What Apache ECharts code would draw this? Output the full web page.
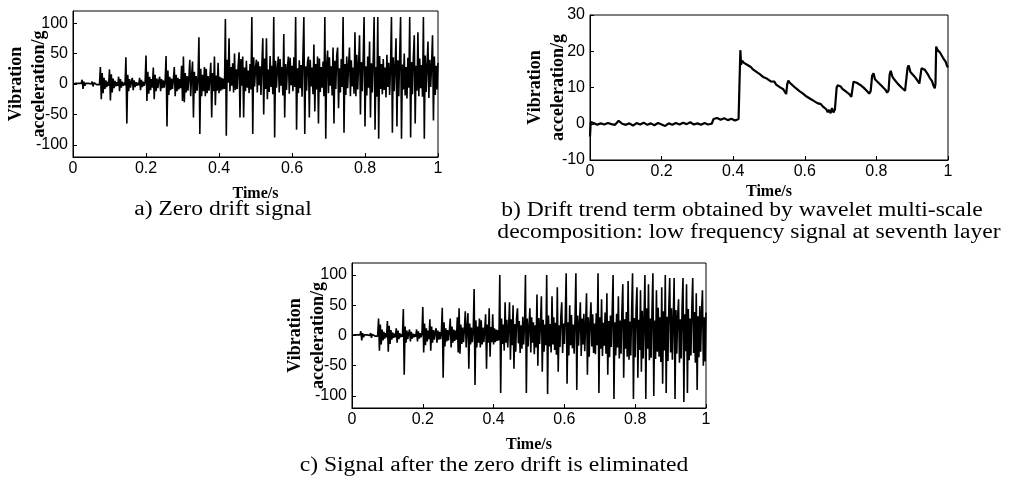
<!DOCTYPE html>
<html>
<head>
<meta charset="utf-8">
<script src="https://cdn.jsdelivr.net/npm/echarts@6/dist/echarts.min.js"></script>
<style>
html,body{margin:0;padding:0;background:#fff;}
#chart{width:1013px;height:480px;}
</style>
</head>
<body>
<div id="chart"></div>
<script>
// ---- data ----
const sampleStep = 0.0025;               // s, time between samples of the vibration records
const timeTicks = [0, 0.2, 0.4, 0.6, 0.8, 1];
const accTicks = [-100, -50, 0, 50, 100];
const driftTicks = [-10, 0, 10, 20, 30];

// a) zero drift signal (g)
const accRaw = [
  0,1,-1,1,0,-1,1,-1,0,1,7,-8,4,-3,1,-1,0,1,-1,0,
  0,4,-4,2,-1,1,-1,0,1,-1,28,-25,18,-15,10,-8,6,-5,4,-3,
  24,-27,16,-14,9,-7,5,-4,3,-3,12,-12,8,-6,4,-3,2,-2,44,-65,
  15,-12,8,-6,4,10,-10,6,-5,3,-3,2,-2,10,-10,7,-5,4,-3,2,
  47,-28,20,-16,12,-10,8,-6,27,-25,15,-12,9,-7,6,12,-12,8,-7,6,
  -6,5,46,-70,22,-18,12,-10,9,-8,7,28,-20,15,-12,10,-9,8,-7,30,
  -28,45,-30,18,-14,13,-11,10,40,-20,14,37,-55,20,-15,13,-11,10,77,-82,
  25,-20,15,-12,28,-20,25,-15,13,-11,10,35,-55,18,-12,45,-35,14,-11,35,
  -15,12,-11,10,-9,9,-8,107,-85,40,2,75,-12,28,-3,34,-14,50,-10,24,
  -8,30,52,-55,41,-3,45,-55,27,-12,38,-6,22,-15,33,-9,110,-82,44,-4,
  26,40,-14,37,-2,29,-18,31,75,-50,42,-8,75,-25,24,-13,46,-5,30,-17,
  110,-88,38,-6,25,45,-14,41,-3,28,-19,82,-55,33,-10,27,45,-16,43,-2,
  30,-12,44,-5,110,-75,26,-15,39,-7,31,-21,47,110,-82,29,-11,36,45,-55,
  40,-4,27,-17,65,-45,33,-9,45,-65,42,-13,28,-6,37,-20,110,-90,31,55,
  -15,44,-3,29,-19,60,-65,38,-8,47,60,-40,26,-14,41,-5,110,-80,33,-18,
  45,-7,30,60,-20,39,-4,27,-16,85,-20,48,-9,32,80,-50,36,-12,42,110,
  -70,29,-19,45,-6,70,-55,34,-14,40,110,-75,28,-21,110,-90,46,-8,33,-17,
  41,-10,27,-22,48,-5,35,-18,30,110,-80,44,-12,29,75,-70,39,-20,46,110,
  -90,32,-9,50,-19,28,-24,43,-6,110,-88,36,-17,45,80,-65,30,-11,85,-20,
  42,-7,31,-21,110,-90,47,-13,29,70,-23,40,-5,34,80,-60,45,-18,30,-9,
  35
];

// b) drift trend term (g)
const driftTime = [
  0,0.002,0.01,0.02,0.03,0.04,0.05,0.06,0.07,0.08,0.09,0.10,0.11,0.12,0.13,0.14,0.15,0.16,0.17,0.18,
  0.19,0.20,0.21,0.22,0.23,0.24,0.25,0.26,0.27,0.28,0.29,0.30,0.31,0.32,0.33,0.34,0.345,0.355,0.365,0.375,
  0.385,0.395,0.405,0.415,0.419,
  0.42,0.422,0.425,0.43,0.435,0.44,0.445,0.45,0.455,0.46,0.465,0.47,0.475,0.48,0.485,0.49,0.495,0.50,0.505,0.51,
  0.515,0.52,0.525,0.53,0.535,0.54,0.545,0.548,0.551,0.554,0.558,0.562,0.566,0.57,0.575,0.58,0.585,0.59,0.595,0.60,
  0.605,0.61,0.615,0.62,0.625,0.63,0.635,0.64,0.645,0.65,0.655,0.66,0.664,0.668,0.672,0.676,0.68,0.684,0.687,0.689,
  0.692,0.697,0.70,0.705,0.71,0.715,0.72,0.725,0.73,0.733,0.736,0.74,0.745,0.75,0.755,0.76,0.765,0.77,0.775,0.78,
  0.784,0.788,0.792,0.796,0.80,0.805,0.81,0.815,0.82,0.825,0.83,0.834,0.837,0.84,0.845,0.85,0.855,0.86,0.865,0.87,
  0.875,0.88,0.884,0.887,0.89,0.895,0.90,0.905,0.91,0.915,0.92,0.923,0.926,0.93,0.935,0.94,0.945,0.95,0.955,0.96,
  0.963,0.965,0.967,0.97,0.974,0.978,0.982,0.986,0.99,0.994,0.997,1.0
];
const driftValue = [
  -3.5,0.5,0.2,-0.3,0.1,-0.2,0.2,-0.1,-0.3,0.8,0,-0.3,0.1,-0.5,0.2,-0.2,0.3,-0.3,0.1,-0.4,
  0.2,-0.2,-0.6,0.1,-0.3,0.2,-0.2,0.3,-0.1,0.4,-0.2,0.1,-0.3,0.2,-0.2,0,1.3,1.6,1.1,1.5,
  1.0,1.4,0.9,1.3,0.8,
  20.3,16.3,17.4,16.8,17.0,16.2,15.8,15.6,15.0,14.9,14.3,14.4,13.6,13.2,12.8,12.3,12.4,12.0,11.7,11.9,
  11.6,10.8,10.4,10.1,9.9,9.5,9.1,8.2,11.0,11.9,11.3,11.5,10.6,10.4,9.8,9.6,9.0,8.8,8.3,8.0,
  7.5,7.4,6.9,6.8,6.3,6.0,5.7,5.2,5.4,4.8,4.9,4.0,3.2,3.8,2.9,4.3,3.1,3.9,3.5,10.0,
  10.6,10.1,10.3,9.6,9.4,8.9,8.6,8.1,7.4,7.8,11.6,12.1,11.3,11.5,10.7,10.8,9.9,9.5,8.9,8.3,
  9.0,13.2,13.9,12.3,12.6,11.4,11.2,10.4,10.0,9.4,8.6,9.2,13.6,14.6,12.9,12.2,11.8,11.0,10.7,10.0,
  9.8,9.1,9.6,15.4,16.1,14.3,14.0,13.2,12.6,12.2,11.1,11.6,15.3,15.7,14.9,14.2,13.4,12.5,11.8,10.4,
  9.8,11.0,21.3,20.5,20.9,19.6,20.0,18.2,18.7,17.0,16.0,15.5
];

// c) signal after the zero drift is eliminated (g)
const accClean = [
  0,1,-1,1,0,-1,1,-1,0,1,7,-8,4,-3,1,-1,0,1,-1,0,
  0,4,-4,2,-1,1,-1,0,1,-1,28,-25,18,-15,10,-8,6,-5,4,-3,
  24,-27,16,-14,9,-7,5,-4,3,-3,12,-12,8,-6,4,-3,2,-2,44,-65,
  15,-12,8,-6,4,10,-10,6,-5,3,-3,2,-2,10,-10,7,-5,4,-3,2,
  47,-28,20,-16,12,-10,8,-6,27,-25,15,-12,9,-7,6,12,-12,8,-7,6,
  -6,5,46,-70,22,-18,12,-10,9,-8,7,28,-20,15,-12,10,-9,8,-7,30,
  -28,45,-30,18,-14,13,-11,10,40,-20,14,37,-55,20,-15,13,-11,10,77,-82,
  25,-20,15,-12,28,-20,25,-15,13,-11,10,35,-55,18,-12,45,-35,14,-11,35,
  -15,12,-11,10,-9,9,-8,100,-95,28,-14,18,-25,55,-12,26,-20,15,55,-40,
  27,-16,50,-55,19,-27,30,45,-13,24,-29,17,-22,31,-15,20,100,-95,28,-18,
  14,45,-28,30,-12,22,-31,17,-20,68,-50,29,-14,21,65,-60,26,-27,18,-16,
  100,-97,33,-18,19,-28,65,-15,30,-24,21,-32,80,-60,17,-19,32,55,-29,20,
  -14,31,103,-80,22,-33,50,-16,34,-21,18,-30,29,103,-90,33,-17,20,55,-34,
  28,-15,36,-26,19,70,-65,30,-35,22,55,-18,35,-29,20,-31,37,-16,103,-95,
  30,-22,60,-34,21,-17,38,-30,70,-65,24,-36,33,-19,40,100,-105,22,-33,36,
  -20,65,-38,25,-30,41,85,-70,27,-22,39,-35,90,-40,23,-33,42,103,-105,29,
  -36,44,80,-70,26,-24,75,-60,41,-38,30,100,-105,45,-22,85,-41,28,-37,43,
  103,-100,25,-39,75,-27,46,-35,30,-44,80,-80,40,-25,100,-95,31,-42,47,95,
  -28,45,-40,29,95,-105,42,-30,33,60,-45,27,-38,48,95,-110,35,-26,85,-95,
  44,-41,28,-33,47,95,-29,39,-45,70,-90,32,-36,49,-27,41,75,-50,30,-43,
  38
];

const yTitle = 'Vibration\nacceleration/g';
const xTitle = 'Time/s';
const captionA = 'a) Zero drift signal';
const captionB1 = 'b) Drift trend term obtained by wavelet multi-scale';
const captionB2 = 'decomposition: low frequency signal at seventh layer';
const captionC = 'c) Signal after the zero drift is eliminated';

// ---- chart ----
const sampled = vals => vals.map((v, i) => [+(i * sampleStep).toFixed(4), v]);
const paired = (xs, ys) => xs.map((x, i) => [x, ys[i]]);

const SANS = 'Liberation Sans, Arial, sans-serif';
const SERIF = 'Liberation Serif, Times New Roman, serif';

function xAxis(gridIndex, gap) {
  return {
    type: 'value', gridIndex, min: 0, max: 1, interval: 0.2,
    name: xTitle, nameLocation: 'middle', nameGap: gap, nameMoveOverlap: false,
    nameTextStyle: {fontFamily: SERIF, fontWeight: 'bold', fontSize: 16, color: '#000'},
    axisLine: {show: true, onZero: false, lineStyle: {color: '#000', width: 1}},
    axisTick: {show: true, inside: true, length: 4, lineStyle: {color: '#000'}},
    axisLabel: {fontFamily: SANS, fontSize: 16, color: '#000', margin: 4,
      customValues: timeTicks, formatter: v => String(v)},
    splitLine: {show: false}
  };
}
function yAxis(gridIndex, min, max, ticks, gap) {
  return {
    type: 'value', gridIndex, min, max,
    name: yTitle, nameLocation: 'middle', nameGap: gap, nameRotate: 90, nameMoveOverlap: false,
    nameTextStyle: {fontFamily: SERIF, fontWeight: 'bold', fontSize: 18, lineHeight: 23, color: '#000'},
    axisLine: {show: true, onZero: false, lineStyle: {color: '#000', width: 1}},
    axisTick: {show: true, inside: true, length: 4, customValues: ticks, lineStyle: {color: '#000'}},
    axisLabel: {fontFamily: SANS, fontSize: 16, color: '#000', margin: 5, customValues: ticks},
    splitLine: {show: false}
  };
}
function caption(text, x, y) {
  return {type: 'text', x, y, scaleX: 1.18, silent: true,
    style: {text, fill: '#000', font: '20px ' + SERIF, textAlign: 'center', textVerticalAlign: 'middle'}};
}
function gridBox(left, top, width, height) {
  return {left, top, width, height, show: true, borderColor: '#000', borderWidth: 1,
    containLabel: false, outerBoundsMode: 'none'};
}

const chart = echarts.init(document.getElementById('chart'), null, {renderer: 'canvas'});
chart.setOption({
  animation: false,
  backgroundColor: '#fff',
  grid: [
    gridBox(73, 11, 365, 146),
    gridBox(590, 15, 358, 145),
    gridBox(352, 263, 354, 145)
  ],
  xAxis: [xAxis(0, 29), xAxis(1, 24), xAxis(2, 29)],
  yAxis: [yAxis(0, -120, 120, accTicks, 22), yAxis(1, -10, 30, driftTicks, 20), yAxis(2, -120, 120, accTicks, 22)],
  series: [
    {type: 'line', xAxisIndex: 0, yAxisIndex: 0, data: sampled(accRaw), showSymbol: false,
      lineStyle: {color: '#000', width: 1.6}, sampling: null},
    {type: 'line', xAxisIndex: 1, yAxisIndex: 1, data: paired(driftTime, driftValue), showSymbol: false,
      lineStyle: {color: '#000', width: 2.2}},
    {type: 'line', xAxisIndex: 2, yAxisIndex: 2, data: sampled(accClean), showSymbol: false,
      lineStyle: {color: '#000', width: 1.6}, sampling: null}
  ],
  graphic: [
    caption(captionA, 223, 210),
    caption(captionB1, 742, 211),
    caption(captionB2, 749, 233),
    caption(captionC, 494, 466)
  ]
});
</script>
</body>
</html>
